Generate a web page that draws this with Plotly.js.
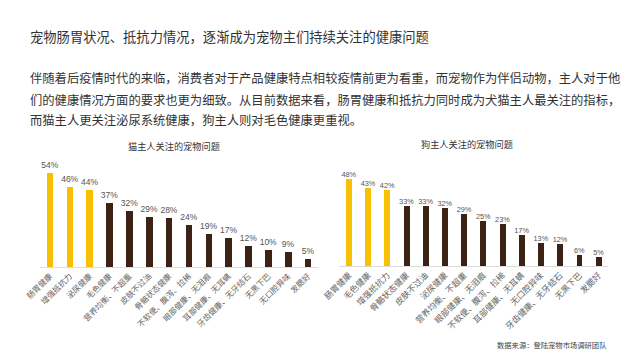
<!DOCTYPE html>
<html><head><meta charset="utf-8">
<script src="https://cdn.plot.ly/plotly-3.0.1.min.js"></script>
<style>html,body{margin:0;padding:0;background:#fff}#chart{width:640px;height:360px}</style>
</head><body><div id="chart"></div>
<script>
const catLabels = ["肠胃健康","增强抵抗力","泌尿健康","毛色健康","营养均衡、不超重","皮肤不过油","骨骼状态健康","不软便、腹泻、拉稀","眼部健康、无泪痕","耳部健康、无耳螨","牙齿健康、无牙结石","无黑下巴","无口腔异味","发腮好"];
const catValues = [54,46,44,37,32,29,28,24,19,17,12,10,9,5];
const dogLabels = ["肠胃健康","毛色健康","增强抵抗力","骨骼状态健康","皮肤不过油","泌尿健康","营养均衡、不超重","眼部健康、无泪痕","不软便、腹泻、拉稀","耳部健康、无耳螨","无口腔异味","牙齿健康、无牙结石","无黑下巴","发腮好"];
const dogValues = [48,43,42,33,33,32,29,25,23,17,13,12,6,5];
const highlightCount = 3;

const mainTitle = "宠物肠胃状况、抵抗力情况，逐渐成为宠物主们持续关注的健康问题";
const paragraph = [
  "伴随着后疫情时代的来临，消费者对于产品健康特点相较疫情前更为看重，而宠物作为伴侣动物，主人对于他",
  "们的健康情况方面的要求也更为细致。从目前数据来看，肠胃健康和抵抗力同时成为犬猫主人最关注的指标，",
  "而猫主人更关注泌尿系统健康，狗主人则对毛色健康更重视。"
];
const catTitle = "猫主人关注的宠物问题";
const dogTitle = "狗主人关注的宠物问题";
const sourceText = "数据来源：登陆宠物市场调研团队";

const YEL = "#F8C000", BRN = "#3D2316";
const W = 640, H = 360;
const cjk = "Noto Sans CJK SC, sans-serif";
const num = "Liberation Sans, Arial, sans-serif";
const colors = n => Array.from({length:n},(_, i)=> i < highlightCount ? YEL : BRN);
const pct = v => v.map(x => x + "%");

const traces = [
  {type:"bar", x:catLabels, y:catValues, xaxis:"x", yaxis:"y", width:0.33,
   marker:{color:colors(catValues.length)}, text:pct(catValues), textposition:"outside", constraintext:"none",
   textfont:{family:num, size:8.5, color:"#555"}, cliponaxis:false, hoverinfo:"none"},
  {type:"bar", x:dogLabels, y:dogValues, xaxis:"x2", yaxis:"y2", width:0.31,
   marker:{color:colors(dogValues.length)}, text:pct(dogValues), textposition:"outside", constraintext:"none",
   textfont:{family:num, size:7.3, color:"#555"}, cliponaxis:false, hoverinfo:"none"}
];

const px = x => x / W, py = y => 1 - y / H;
const xa = (d) => ({domain:d, type:"category", showline:true, linecolor:"#dddddd", linewidth:1,
  ticks:"", tickangle:-45, tickfont:{family:cjk, size:8, color:"#666"}, showgrid:false, zeroline:false, fixedrange:true});
const ya = (d, r) => ({domain:d, range:r, showgrid:false, zeroline:false, showticklabels:false, showline:false, fixedrange:true});

const ann = [];
ann.push({text:mainTitle, x:px(28), y:py(37), xref:"paper", yref:"paper", xanchor:"left", yanchor:"middle", showarrow:false,
  font:{family:cjk, size:13.3, color:"#333"}});
const lineY = [78, 99.5, 120.5];
paragraph.forEach((t,i)=>ann.push({text:t, x:px(28), y:py(lineY[i]), xref:"paper", yref:"paper", xanchor:"left", yanchor:"middle", showarrow:false,
  font:{family:cjk, size:12.3, color:"#333"}}));
ann.push({text:catTitle, x:px(174), y:py(146), xref:"paper", yref:"paper", xanchor:"center", yanchor:"middle", showarrow:false,
  font:{family:cjk, size:9.2, color:"#333"}});
ann.push({text:dogTitle, x:px(467), y:py(144), xref:"paper", yref:"paper", xanchor:"center", yanchor:"middle", showarrow:false,
  font:{family:cjk, size:9.2, color:"#333"}});
ann.push({text:sourceText, x:px(495), y:py(345), xref:"paper", yref:"paper", xanchor:"left", yanchor:"middle", showarrow:false,
  font:{family:cjk, size:7.3, color:"#444"}});

const layout = {
  width:W, height:H, margin:{l:0,r:0,t:0,b:0}, paper_bgcolor:"#fff", plot_bgcolor:"#fff",
  showlegend:false, bargap:0,
  xaxis: xa([px(40.1), px(318)]),
  yaxis: ya([py(267.3), py(150)], [0, 117.3/1.75]),
  xaxis2: Object.assign(xa([px(339.4), px(608.3)]), {anchor:"y2", tickfont:{family:cjk, size:8.5, color:"#666"}}),
  yaxis2: Object.assign(ya([py(266), py(150)], [0, 116/1.806]), {anchor:"x2"}),
  annotations: ann
};
layout.xaxis.anchor = "y";
layout.yaxis.anchor = "x";
Plotly.newPlot("chart", traces, layout, {displayModeBar:false, staticPlot:true});
</script></body></html>
